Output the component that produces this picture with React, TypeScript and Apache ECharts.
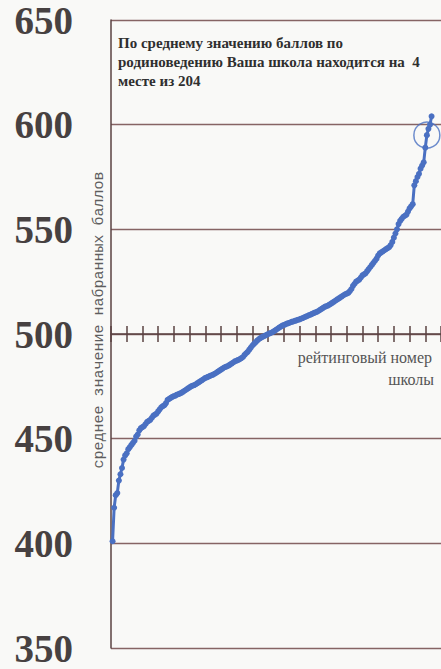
import { useEffect, useRef } from "react";
import * as echarts from "echarts";

// Y axis ticks (average score)
const yTicks = [350, 400, 450, 500, 550, 600, 650];

// Average scores of the 204 schools, sorted ascending (rank position 1..204 along X)
const scores = [
  401, 417, 423, 424, 430, 433, 436, 440, 442, 443,
  445, 446, 447, 448, 449, 451, 452, 454, 455, 455.5,
  456, 457, 458, 458.5, 459, 460, 461, 461.5, 462, 463,
  464, 465, 465.5, 466, 467, 468.5, 469, 469.5, 470, 470.3,
  470.6, 471, 471.3, 471.6, 472, 472.5, 473, 473.5, 474, 474.5,
  475, 475.3, 475.6, 476, 476.5, 477, 477.5, 478, 478.5, 479,
  479.3, 479.6, 480, 480.3, 480.6, 481, 481.5, 482, 482.5, 483,
  483.5, 484, 484.3, 484.6, 485, 485.5, 486, 486.5, 487, 487.3,
  487.6, 488, 488.5, 489, 490, 490.8, 491.5, 492.5, 493.5, 494.5,
  495.3, 496, 496.8, 497.5, 498, 498.5, 498.8, 499.2, 499.6, 500,
  500.3, 500.6, 501, 501.5, 502, 502.5, 503, 503.5, 504, 504.3,
  504.6, 505, 505.2, 505.5, 505.8, 506, 506.3, 506.5, 506.8, 507,
  507.3, 507.6, 508, 508.3, 508.6, 509, 509.3, 509.6, 510, 510.3,
  510.6, 511, 511.5, 512, 512.5, 513, 513.3, 513.6, 514, 514.5,
  515, 515.5, 516, 516.5, 517, 517.5, 518, 518.5, 519, 519.3,
  519.6, 520.5, 521.5, 523, 524, 525, 525.5, 526, 527, 528,
  528.5, 529, 530, 531, 532, 533, 534, 535, 536, 537.5,
  538.5, 539, 539.5, 540, 540.5, 541, 541.5, 542.5, 544, 546,
  548, 550, 552.5, 554, 555, 556, 556.5, 557, 558.5, 560,
  561, 562, 571, 573, 575, 576.5, 579, 580.5, 582, 589,
  595, 598, 600, 604,
];

const schoolCount = 204;
const schoolPlace = 4;
const rankTickStep = 10;

const noteLines = [
  "По среднему значению баллов по",
  "родиноведению Ваша школа находится на  4",
  "месте из 204",
];
const yAxisTitle = "среднее значение набранных баллов";
const xAxisTitleLines = ["рейтинговый номер", "школы"];

export default function App() {
  const ref = useRef<HTMLDivElement>(null);

  useEffect(() => {
    const chart = echarts.init(ref.current!, null, { renderer: "svg" });
    const points = scores.map((v, i) => [i + 1, v]);
    const markedRank = schoolCount - schoolPlace + 1; // ascending position of our school
    const marked = [[markedRank, scores[markedRank - 1]]];

    const gridColor = "#866464";
    const axisColor = "#5a4242";
    const blue = "#4a70c2";

    const gridTop = 20;
    const gridHeight = 628;
    const xAxisOffset = -gridHeight / 2; // x axis crosses at 500

    const xCommon = {
      type: "value" as const,
      min: 0,
      max: 210,
      interval: rankTickStep,
      position: "bottom" as const,
      offset: xAxisOffset,
      axisLabel: { show: false },
      splitLine: { show: false },
    };

    chart.setOption({
      animation: false,
      backgroundColor: "#f9f9f7",
      grid: { left: 111, top: gridTop, width: 335, height: gridHeight, containLabel: false },
      xAxis: [
        {
          ...xCommon,
          axisLine: { show: true, onZero: false, lineStyle: { color: axisColor, width: 1.5 } },
          axisTick: { show: true, inside: false, length: 8, lineStyle: { color: axisColor, width: 1.5 } },
        },
        {
          ...xCommon,
          axisLine: { show: false, onZero: false },
          axisTick: { show: true, inside: true, length: 8, lineStyle: { color: axisColor, width: 1.5 } },
        },
      ],
      yAxis: {
        type: "value",
        min: yTicks[0],
        max: yTicks[yTicks.length - 1],
        interval: yTicks[1] - yTicks[0],
        axisLine: { show: true, lineStyle: { color: axisColor, width: 1.5 } },
        axisTick: { show: false },
        splitLine: { show: true, lineStyle: { color: gridColor, width: 1.3 } },
        axisLabel: {
          show: true,
          showMinLabel: true,
          showMaxLabel: true,
          margin: 38,
          fontFamily: "'Liberation Serif', serif",
          fontWeight: "bold",
          fontSize: 39,
          color: "#474141",
        },
      },
      series: [
        {
          type: "line",
          data: points,
          xAxisIndex: 0,
          symbol: "circle",
          symbolSize: 6,
          showSymbol: true,
          lineStyle: { color: blue, width: 3 },
          itemStyle: { color: blue },
          z: 5,
        },
        {
          type: "scatter",
          data: marked,
          xAxisIndex: 0,
          symbol: "circle",
          symbolSize: 26,
          itemStyle: { color: "rgba(0,0,0,0)", borderColor: blue, borderWidth: 1.5 },
          z: 6,
        },
      ],
      graphic: [
        {
          type: "text",
          x: 118,
          y: 33,
          style: {
            text: noteLines.join("\n"),
            font: "bold 15px 'Liberation Serif'",
            fill: "#2f2f2f",
            lineHeight: 19,
          },
        },
        {
          type: "text",
          x: 99,
          y: 320,
          rotation: Math.PI / 2,
          style: {
            text: yAxisTitle,
            font: "15px 'Liberation Mono'",
            fill: "#5e5e5e",
            align: "center",
            verticalAlign: "middle",
          },
        },
        {
          type: "text",
          x: 432,
          y: 357,
          style: {
            text: xAxisTitleLines[0],
            font: "16px 'Liberation Serif'",
            fill: "#555",
            align: "right",
            verticalAlign: "middle",
          },
        },
        {
          type: "text",
          x: 434,
          y: 379,
          style: {
            text: xAxisTitleLines[1],
            font: "16px 'Liberation Serif'",
            fill: "#555",
            align: "right",
            verticalAlign: "middle",
          },
        },
      ],
    });
    return () => chart.dispose();
  }, []);

  return (
    <div
      ref={ref}
      style={{ position: "absolute", left: 0, top: 0, width: 441, height: 669, overflow: "hidden" }}
    />
  );
}
